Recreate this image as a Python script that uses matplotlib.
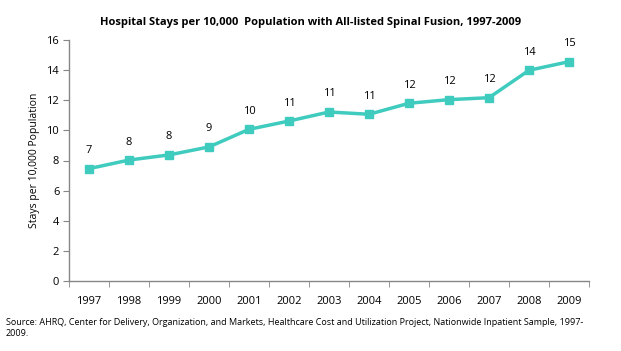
import matplotlib
matplotlib.use("Agg")
import matplotlib.pyplot as plt
import numpy as np

years = ["1997", "1998", "1999", "2000", "2001", "2002", "2003",
         "2004", "2005", "2006", "2007", "2008", "2009"]
stays = [7.46, 8.03, 8.37, 8.9, 10.07, 10.62, 11.22,
         11.07, 11.8, 12.04, 12.17, 13.99, 14.56]
point_labels = ["7", "8", "8", "9", "10", "11", "11", "11", "12", "12", "12", "14", "15"]
yticks = [0, 2, 4, 6, 8, 10, 12, 14, 16]

plt.rcParams['font.family'] = ['Open Sans', 'DejaVu Sans']

fig = plt.figure(figsize=(6.21, 3.51), dpi=100)
ax = fig.add_axes([69/621, 1-281/351, 520/621, 241/351])

x = np.arange(len(years))
color = '#40CBBF'
ax.plot(x, stays, color=color, lw=2.5, marker='s', ms=6, mec=color, mfc=color, zorder=3)
for xi, v, lab in zip(x, stays, point_labels):
    ax.annotate(lab, (xi, v), xytext=(0, 9), textcoords='offset points',
                ha='center', va='bottom', fontsize=8)

ax.set_xlim(-0.5, len(years) - 0.5)
ax.set_ylim(0, 16)
ax.set_yticks(yticks)
ax.set_yticklabels([str(t) for t in yticks], fontsize=8)
ax.set_xticks(x)
ax.set_xticklabels(years, fontsize=8)
ax.set_xticks(np.arange(-0.5, len(years)), minor=True)
ax.tick_params(axis='x', which='major', length=0, pad=11)
ax.tick_params(axis='x', which='minor', length=4, color='#868686', direction='out')
ax.tick_params(axis='y', length=4, color='#868686', direction='out', pad=3)

for s in ['top', 'right']:
    ax.spines[s].set_visible(False)
for s in ['left', 'bottom']:
    ax.spines[s].set_color('#868686')
    ax.spines[s].set_linewidth(1.0)

ax.set_ylabel("Stays per 10,000 Population", fontsize=7.5, labelpad=5)
fig.text(0.5, 1-22/351, "Hospital Stays per 10,000  Population with All-listed Spinal Fusion, 1997-2009",
         ha='center', va='center', fontsize=8, fontweight='bold')
fig.text(6/621, 1-328/351,
         "Source: AHRQ, Center for Delivery, Organization, and Markets, Healthcare Cost and Utilization Project, Nationwide Inpatient Sample, 1997-\n2009.",
         ha='left', va='center', fontsize=6.45, linespacing=1.3)

fig.savefig("out.png", dpi=100)
